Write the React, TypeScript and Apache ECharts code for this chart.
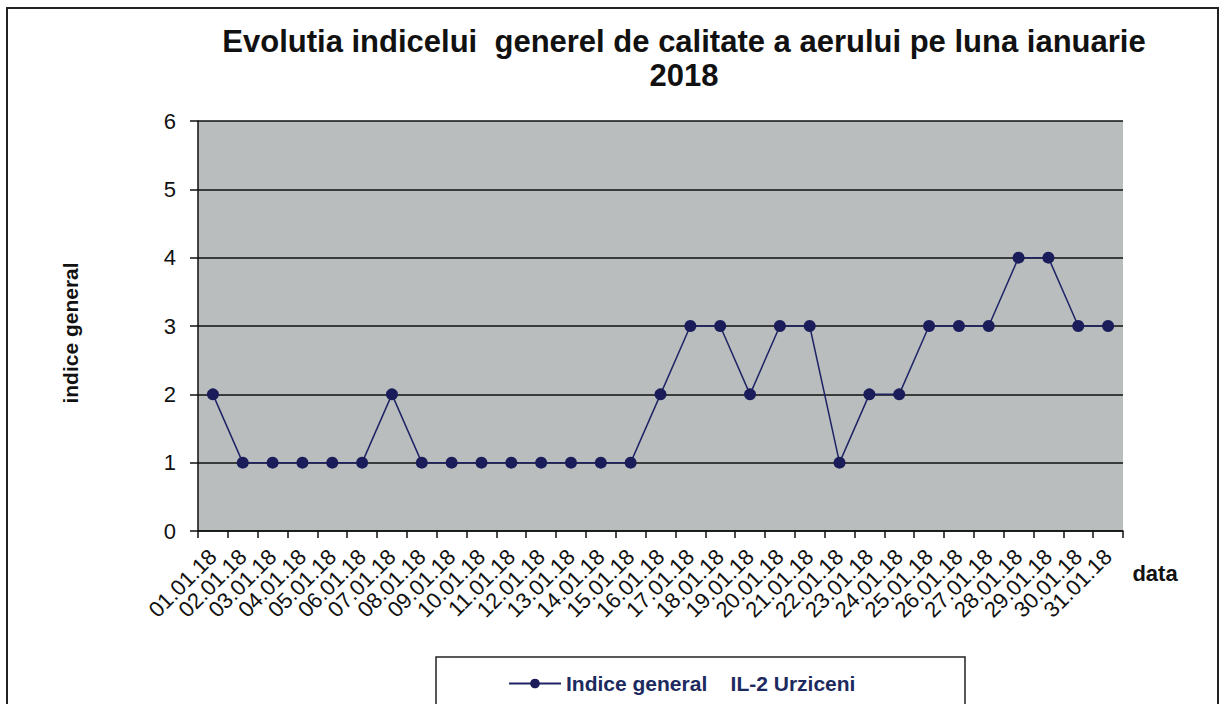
import React, { useEffect, useRef } from "react";
import * as echarts from "echarts";

const categories: string[] = [
  "01.01.18", "02.01.18", "03.01.18", "04.01.18", "05.01.18", "06.01.18", "07.01.18",
  "08.01.18", "09.01.18", "10.01.18", "11.01.18", "12.01.18", "13.01.18", "14.01.18",
  "15.01.18", "16.01.18", "17.01.18", "18.01.18", "19.01.18", "20.01.18", "21.01.18",
  "22.01.18", "23.01.18", "24.01.18", "25.01.18", "26.01.18", "27.01.18", "28.01.18",
  "29.01.18", "30.01.18", "31.01.18",
];
const indiceGeneral: number[] = [
  2, 1, 1, 1, 1, 1, 2, 1, 1, 1, 1, 1, 1, 1, 1,
  2, 3, 3, 2, 3, 3, 1, 2, 2, 3, 3, 3, 4, 4, 3, 3,
];
const seriesName = "Indice general    IL-2 Urziceni";
const titleText = "Evolutia indicelui  generel de calitate a aerului pe luna ianuarie\n2018";
const yAxisTitle = "indice general";
const xAxisTitle = "data";
const yMin = 0;
const yMax = 6;
const yInterval = 1;

const FONT = "'Liberation Sans', Arial, sans-serif";

export default function App() {
  const ref = useRef<HTMLDivElement>(null);
  useEffect(() => {
    document.body.style.margin = "0";
    if (!ref.current) return;
    const chart = echarts.init(ref.current, null, { renderer: "svg" });
    chart.setOption({
      animation: false,
      backgroundColor: "#ffffff",
      title: {
        text: titleText,
        left: 679,
        top: 19,
        textAlign: "center",
        textStyle: {
          fontFamily: FONT,
          fontWeight: "bold",
          fontSize: 31,
          lineHeight: 34,
          color: "#111111",
        },
      },
      legend: {
        left: 503,
        top: 668,
        itemWidth: 52,
        itemHeight: 12,
        itemGap: 10,
        textStyle: {
          fontFamily: FONT,
          fontWeight: "bold",
          fontSize: 21,
          color: "#1c2a5e",
        },
        data: [seriesName],
      },
      grid: {
        left: 198,
        right: 102,
        top: 121,
        bottom: 173,
        show: true,
        backgroundColor: "#b9bdbd",
        borderWidth: 0,
      },
      xAxis: {
        type: "category",
        data: categories,
        boundaryGap: true,
        axisLine: { show: true, lineStyle: { color: "#111111", width: 1.5 } },
        axisTick: { show: true, length: 7, alignWithLabel: false, lineStyle: { color: "#111111", width: 1.5 } },
        axisLabel: {
          interval: 0,
          rotate: 45,
          margin: 22,
          fontFamily: FONT,
          fontSize: 22,
          color: "#111111",
        },
        splitLine: { show: false },
      },
      yAxis: {
        type: "value",
        min: yMin,
        max: yMax,
        interval: yInterval,
        axisLine: { show: true, lineStyle: { color: "#111111", width: 1.5 } },
        axisTick: { show: true, length: 8, lineStyle: { color: "#111111", width: 1.5 } },
        axisLabel: {
          margin: 22,
          fontFamily: FONT,
          fontSize: 22,
          color: "#111111",
        },
        splitLine: { show: true, lineStyle: { color: "#111111", width: 1.5 } },
      },
      series: [
        {
          name: seriesName,
          type: "line",
          data: indiceGeneral,
          symbol: "circle",
          symbolSize: 12,
          lineStyle: { color: "#1e2366", width: 1.5 },
          itemStyle: { color: "#1a1d5a" },
        },
      ],
      graphic: [
        {
          type: "rect",
          shape: { x: 7, y: 8, width: 1211, height: 720 },
          style: { fill: "none", stroke: "#222222", lineWidth: 2 },
          silent: true,
          z: 100,
        },
        {
          type: "rect",
          shape: { x: 436, y: 657, width: 529, height: 60 },
          style: { fill: "none", stroke: "#222222", lineWidth: 1.5 },
          silent: true,
          z: 100,
        },
        {
          type: "text",
          x: 70,
          y: 333,
          rotation: Math.PI / 2,
          style: {
            text: yAxisTitle,
            fontFamily: FONT,
            fontWeight: "bold",
            fontSize: 21,
            fill: "#111111",
            align: "center",
            verticalAlign: "middle",
          },
          z: 100,
        },
        {
          type: "text",
          x: 1155,
          y: 573,
          style: {
            text: xAxisTitle,
            fontFamily: FONT,
            fontWeight: "bold",
            fontSize: 22,
            fill: "#111111",
            align: "center",
            verticalAlign: "middle",
          },
          z: 100,
        },
      ],
    });
    return () => chart.dispose();
  }, []);
  return <div ref={ref} style={{ width: 1225, height: 704 }} />;
}
